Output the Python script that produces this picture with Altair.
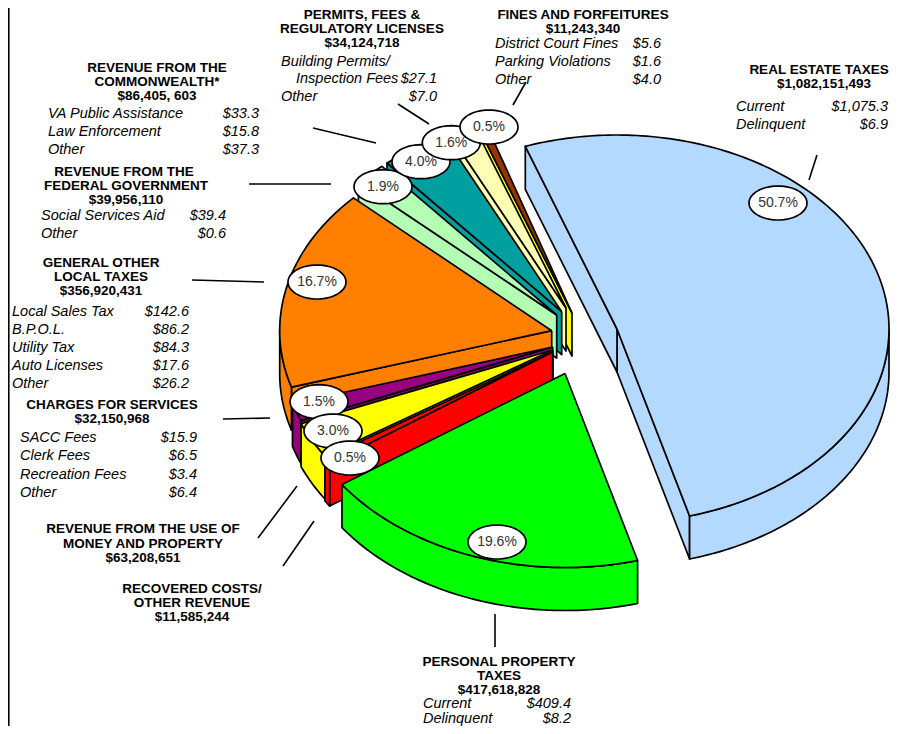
import math
import altair as alt
import pandas as pd

alt.data_transformers.disable_max_rows()

# ---------- data ----------
slices = ["real", "personal", "recovered", "money", "charges", "general", "federal", "commonwealth", "permits", "fines"]
shares = [50.7, 19.6, 0.5, 3.0, 1.5, 16.7, 1.9, 4.0, 1.6, 0.5]
share_labels = ["50.7%", "19.6%", "0.5%", "3.0%", "1.5%", "16.7%", "1.9%", "4.0%", "1.6%", "0.5%"]
colors = ["#B3D9FF", "#00FF00", "#FF0000", "#FFFF00", "#990080", "#FF8000", "#B3FFB3", "#00A0A0", "#FFFFB3", "#993300"]

bold_lines = [
    ("REAL ESTATE TAXES", 819, 70), ("$1,082,151,493", 824, 84),
    ("FINES AND FORFEITURES", 583, 14.5), ("$11,243,340", 583, 28.5),
    ("PERMITS, FEES &", 362, 15), ("REGULATORY LICENSES", 362, 29), ("$34,124,718", 362, 43),
    ("REVENUE FROM THE", 157, 68), ("COMMONWEALTH*", 157, 82), ("$86,405, 603", 157, 96),
    ("REVENUE FROM THE", 124, 172), ("FEDERAL GOVERNMENT", 126, 186), ("$39,956,110", 126, 200),
    ("GENERAL OTHER", 101, 263), ("LOCAL TAXES", 101, 277), ("$356,920,431", 101, 291),
    ("CHARGES FOR SERVICES", 112, 405), ("$32,150,968", 112, 419),
    ("REVENUE FROM THE USE OF", 143, 529), ("MONEY AND PROPERTY", 143, 544), ("$63,208,651", 143, 558),
    ("RECOVERED COSTS/", 192, 589), ("OTHER REVENUE", 192, 603), ("$11,585,244", 192, 617),
    ("PERSONAL PROPERTY", 499, 662), ("TAXES", 499, 676), ("$417,618,828", 499, 690),
]
item_names = [
    ("Current", 736, 107), ("Delinquent", 736, 125),
    ("District Court Fines", 495, 44), ("Parking Violations", 495, 62), ("Other", 495, 80),
    ("Building Permits/", 281, 62), ("Inspection Fees", 296, 79), ("Other", 281, 97),
    ("VA Public Assistance", 48, 114), ("Law Enforcement", 48, 132), ("Other", 48, 150),
    ("Social Services Aid", 41, 216), ("Other", 41, 234),
    ("Local Sales Tax", 12, 312), ("B.P.O.L.", 12, 330), ("Utility Tax", 12, 348),
    ("Auto Licenses", 12, 366), ("Other", 12, 384),
    ("SACC Fees", 20, 438), ("Clerk Fees", 20, 456), ("Recreation Fees", 20, 475), ("Other", 20, 493),
    ("Current", 423, 704), ("Delinquent", 423, 718.5),
]
item_values = [
    ("$1,075.3", 888, 107), ("$6.9", 888, 125),
    ("$5.6", 661, 44), ("$1.6", 661, 62), ("$4.0", 661, 80),
    ("$27.1", 437, 79), ("$7.0", 437, 97),
    ("$33.3", 259, 114), ("$15.8", 259, 132), ("$37.3", 259, 150),
    ("$39.4", 226, 216), ("$0.6", 226, 234),
    ("$142.6", 189, 312), ("$86.2", 189, 330), ("$84.3", 189, 348), ("$17.6", 189, 366), ("$26.2", 189, 384),
    ("$15.9", 197, 438), ("$6.5", 197, 456), ("$3.4", 197, 475), ("$6.4", 197, 493),
    ("$409.4", 571, 704), ("$8.2", 571, 718.5),
]

# ---------- layout of the exploded 3-D pie ----------
RX, RY, DEPTH = 272, 194, 43
START = -18.0
apex = {
    "real": (617, 329), "personal": (565, 373.5), "recovered": (552.7, 352), "money": (552.7, 350),
    "charges": (552.7, 347), "general": (551.7, 330.7), "federal": (556.7, 315),
    "commonwealth": (561.7, 311.7), "permits": (566, 308), "fines": (572, 313),
}
wall_key = {"fines": "money"}           # that slice's visible cut face is yellow
paint_order = ["real", "fines", "permits", "commonwealth", "federal", "general",
               "charges", "money", "recovered", "personal"]
label_at = {
    "real": (778, 203), "personal": (497, 542), "recovered": (350, 458), "money": (333, 431),
    "charges": (319, 401.7), "general": (317, 282), "federal": (383, 186.7),
    "commonwealth": (421, 161.7), "permits": (451.3, 142.7), "fines": (489, 127),
}
label_order = ["real", "personal", "general", "federal", "commonwealth", "permits", "fines",
               "charges", "money", "recovered"]
leaders = [
    (809, 180, 817, 155), (495, 614, 495, 647), (283, 566, 314, 521), (258, 538, 297, 486),
    (223, 419, 270, 418), (192, 280, 264, 282), (249, 184, 331, 184), (313, 128, 376, 143),
    (398, 104, 429, 124), (513, 105, 526, 82),
]
border = [(8.8, 8, 8.8, 726)]

# ---------- geometry from the shares ----------
angles, t = {}, START
for name, s in zip(slices, shares):
    angles[name] = (t, t + s * 3.6)
    t += s * 3.6
angles["real"] = (-19.7, angles["real"][1])


def rim(cx, cy, a, dz=0):
    r = math.radians(a)
    return (cx + RX * math.sin(r), cy - RY * math.cos(r) + dz)


def sweep(a1, a2):
    n = max(2, int(abs(a2 - a1)) + 2)
    return [a1 + (a2 - a1) * i / (n - 1) for i in range(n)]


polys = []


def add(key, pts):
    pts = list(pts) + [pts[0]]
    pid = len(polys)
    polys.append([{"pid": pid, "i": i, "x": p[0], "y": p[1], "key": key} for i, p in enumerate(pts)])


for name in paint_order:
    cx, cy = apex[name]
    a1, a2 = angles[name]
    if math.sin(math.radians(a2)) > 0:
        e = rim(cx, cy, a2)
        add(name, [(cx, cy), e, (e[0], e[1] + DEPTH), (cx, cy + DEPTH)])
    if math.sin(math.radians(a1)) < 0:
        e = rim(cx, cy, a1)
        add(wall_key.get(name, name), [(cx, cy), e, (e[0], e[1] + DEPTH), (cx, cy + DEPTH)])
    lo, hi = max(a1, 90), min(a2, 270)
    if lo < hi:
        arc = sweep(lo, hi)
        add(name, [rim(cx, cy, a) for a in arc] + [rim(cx, cy, a, DEPTH) for a in reversed(arc)])
    add(name, [(cx, cy)] + [rim(cx, cy, a) for a in sweep(a1, a2)])

label_rows = []
for name in label_order:
    lx, ly = label_at[name]
    rx, ry = (29, 17)
    add("label", [(lx + rx * math.cos(math.radians(d)), ly + ry * math.sin(math.radians(d)))
                  for d in range(0, 360, 6)])
    label_rows.append({"x": lx, "y": ly, "t": share_labels[slices.index(name)]})

poly_df = pd.DataFrame([r for p in polys for r in p])

X = alt.Scale(domain=[8, 890], range=[0, 882], nice=False, zero=False)
Y = alt.Scale(domain=[726, 8], nice=False, zero=False)
xq = alt.X("x:Q", scale=X, axis=None)
yq = alt.Y("y:Q", scale=Y, axis=None)

faces = alt.Chart(poly_df).mark_line(stroke="black", strokeWidth=1.7, strokeJoin="round", clip=False).encode(
    x=xq, y=yq,
    detail="pid:N",
    order=alt.Order("i:Q"),
    fill=alt.Fill("key:N", legend=None,
                  scale=alt.Scale(domain=slices + ["label"], range=colors + ["#FFFFFF"])),
)

rules = pd.DataFrame(leaders + border, columns=["x", "y", "x2", "y2"])
leader_marks = alt.Chart(rules).mark_rule(color="black", strokeWidth=1.6).encode(
    x=xq, y=yq, x2="x2:Q", y2="y2:Q")


def text_df(rows):
    return pd.DataFrame(rows, columns=["t", "x", "y"])


FONT = "Liberation Sans"
tb = alt.Chart(text_df(bold_lines)).mark_text(font=FONT, fontWeight="bold", fontSize=13.5, align="center",
                                              baseline="middle", color="black").encode(x=xq, y=yq, text="t:N")
tn = alt.Chart(text_df(item_names)).mark_text(font=FONT, fontStyle="italic", fontSize=14.5, align="left",
                                              baseline="middle", color="black").encode(x=xq, y=yq, text="t:N")
tv = alt.Chart(text_df(item_values)).mark_text(font=FONT, fontStyle="italic", fontSize=14.5, align="right",
                                               baseline="middle", color="black").encode(x=xq, y=yq, text="t:N")
tp = alt.Chart(pd.DataFrame(label_rows)).mark_text(font=FONT, fontSize=14, align="center",
                                                   baseline="middle", color="#333333").encode(x=xq, y=yq, text="t:N")

chart = alt.layer(faces, leader_marks, tb, tn, tv, tp).properties(
    width=882, height=718, padding=0, background="white",
    autosize=alt.AutoSizeParams(type="none", contains="padding"),
).configure_view(stroke=None)

chart.save("out.html", embed_options={"renderer": "svg", "actions": False})
